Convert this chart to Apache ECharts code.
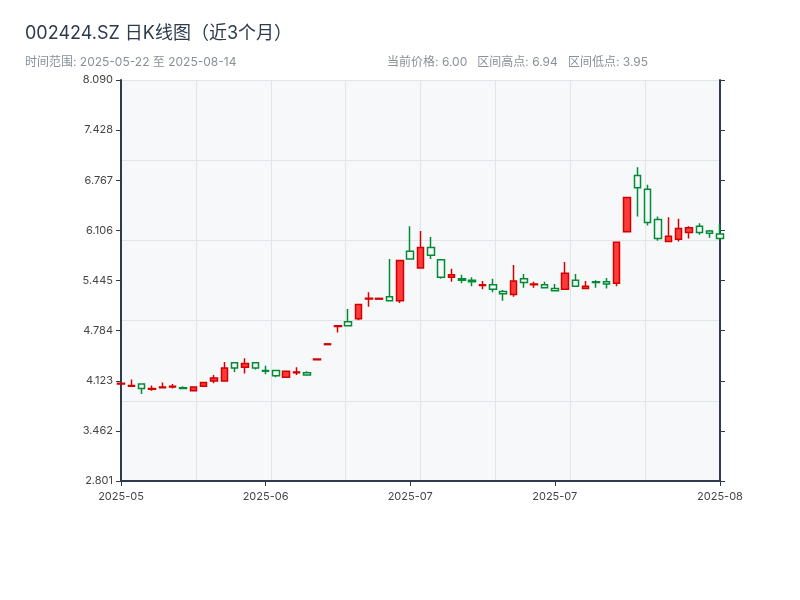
<!DOCTYPE html>
<html>
<head>
<meta charset="utf-8">
<script src="https://cdn.jsdelivr.net/npm/echarts@6/dist/echarts.min.js"></script>
<style>
  html, body { margin: 0; padding: 0; background: #fff; }
  #chart { width: 800px; height: 600px; }
</style>
</head>
<body>
<div id="chart"></div>
<script>
// trading days shown on the category axis
const dates = [
  '2025-05-22', '2025-05-23', '2025-05-26', '2025-05-27', '2025-05-28', '2025-05-29', '2025-05-30',
  '2025-06-03', '2025-06-04', '2025-06-05', '2025-06-06', '2025-06-09', '2025-06-10', '2025-06-11',
  '2025-06-12', '2025-06-13', '2025-06-16', '2025-06-17', '2025-06-18', '2025-06-19', '2025-06-20',
  '2025-06-23', '2025-06-24', '2025-06-25', '2025-06-26', '2025-06-27', '2025-06-30', '2025-07-01',
  '2025-07-02', '2025-07-03', '2025-07-04', '2025-07-07', '2025-07-08', '2025-07-09', '2025-07-10',
  '2025-07-11', '2025-07-14', '2025-07-15', '2025-07-16', '2025-07-17', '2025-07-18', '2025-07-21',
  '2025-07-22', '2025-07-23', '2025-07-24', '2025-07-25', '2025-07-28', '2025-07-29', '2025-07-30',
  '2025-07-31', '2025-08-04', '2025-08-05', '2025-08-06', '2025-08-07', '2025-08-08', '2025-08-11',
  '2025-08-12', '2025-08-13', '2025-08-14'
];

const opens  = [4.08, 4.05, 4.08, 4.01, 4.03, 4.04, 4.03, 3.99, 4.05, 4.12, 4.12, 4.36, 4.30, 4.36,
                4.26, 4.26, 4.17, 4.23, 4.23, 4.40, 4.60, 4.84, 4.90, 4.94, 5.20, 5.20, 5.23, 5.18,
                5.83, 5.61, 5.88, 5.72, 5.49, 5.47, 5.45, 5.38, 5.39, 5.30, 5.26, 5.47, 5.39, 5.39,
                5.34, 5.33, 5.45, 5.34, 5.43, 5.43, 5.41, 6.09, 6.83, 6.65, 6.25, 5.96, 5.99, 6.08,
                6.16, 6.10, 6.06];
const closes = [4.09, 4.06, 4.02, 4.02, 4.04, 4.05, 4.02, 4.04, 4.10, 4.16, 4.29, 4.29, 4.35, 4.29,
                4.25, 4.19, 4.25, 4.24, 4.20, 4.41, 4.61, 4.85, 4.85, 5.13, 5.21, 5.21, 5.18, 5.71,
                5.73, 5.88, 5.78, 5.49, 5.52, 5.45, 5.43, 5.39, 5.33, 5.27, 5.44, 5.42, 5.40, 5.35,
                5.31, 5.54, 5.37, 5.37, 5.42, 5.40, 5.95, 6.54, 6.67, 6.21, 6.00, 6.03, 6.13, 6.14,
                6.08, 6.07, 6.00];
const lows   = [4.08, 4.05, 3.95, 3.99, 4.03, 4.02, 4.01, 3.98, 4.05, 4.09, 4.12, 4.24, 4.22, 4.27,
                4.21, 4.17, 4.16, 4.20, 4.20, 4.40, 4.60, 4.76, 4.84, 4.92, 5.10, 5.20, 5.18, 5.15,
                5.73, 5.61, 5.73, 5.47, 5.43, 5.41, 5.37, 5.33, 5.29, 5.18, 5.23, 5.35, 5.35, 5.35,
                5.31, 5.33, 5.36, 5.34, 5.35, 5.34, 5.37, 6.09, 6.29, 6.17, 5.97, 5.96, 5.96, 6.00,
                6.05, 6.01, 6.00];
const highs  = [4.09, 4.14, 4.08, 4.06, 4.10, 4.08, 4.05, 4.05, 4.10, 4.20, 4.37, 4.37, 4.42, 4.37,
                4.32, 4.26, 4.25, 4.30, 4.25, 4.41, 4.61, 4.85, 5.07, 5.13, 5.29, 5.21, 5.73, 5.71,
                6.16, 6.10, 6.02, 5.72, 5.60, 5.52, 5.49, 5.44, 5.47, 5.32, 5.65, 5.53, 5.43, 5.43,
                5.40, 5.69, 5.53, 5.44, 5.45, 5.48, 5.95, 6.54, 6.94, 6.71, 6.29, 6.28, 6.26, 6.16,
                6.20, 6.11, 6.19];

const yMin = 2.801;
const yMax = 8.090;

const chart = echarts.init(document.getElementById('chart'));

const candles = dates.map((d, i) => [opens[i], closes[i], lows[i], highs[i]]);
const fmt3 = v => (Math.floor(v * 1000 + 1e-6) / 1000).toFixed(3);

chart.setOption({
  animation: false,
  backgroundColor: '#fff',
  textStyle: { fontFamily: 'Inter, "Noto Sans CJK SC", sans-serif' },
  title: [
    {
      text: '002424.SZ 日K线图（近3个月）',
      left: 20, top: 20,
      textStyle: { fontSize: 18, fontWeight: 'normal', color: '#2e3b4e' }
    },
    {
      text: '时间范围: 2025-05-22 至 2025-08-14',
      left: 20, top: 51,
      textStyle: { fontSize: 12, fontWeight: 'normal', color: '#8a8f98' }
    },
    {
      text: '当前价格: 6.00   区间高点: 6.94   区间低点: 3.95',
      right: 147, top: 51,
      textStyle: { fontSize: 12, fontWeight: 'normal', color: '#8a8f98' }
    }
  ],
  grid: {
    left: 121, right: 80, top: 80, bottom: 119,
    show: true, backgroundColor: '#f7f8fa', borderWidth: 0
  },
  xAxis: [
    {
      type: 'category',
      data: dates,
      boundaryGap: false,
      axisLine: { lineStyle: { color: '#2e3b4e', width: 2 } },
      axisTick: { interval: 13, lineStyle: { color: '#2e3b4e' } },
      axisLabel: {
        interval: 13, showMaxLabel: true, color: '#444', fontSize: 11, margin: 10,
        formatter: v => v.slice(0, 7)
      },
      splitLine: { show: false }
    },
    {
      type: 'value', min: 0, max: 8, interval: 1, position: 'top',
      axisLine: { show: false }, axisTick: { show: false }, axisLabel: { show: false },
      splitLine: { show: true, lineStyle: { color: '#e1e4ea' } }
    }
  ],
  yAxis: [
    {
      type: 'value', min: yMin, max: yMax, interval: (yMax - yMin) / 8,
      axisLine: { show: true, lineStyle: { color: '#2e3b4e', width: 2 } },
      axisTick: { show: true, lineStyle: { color: '#2e3b4e' } },
      axisLabel: { color: '#444', fontSize: 11, formatter: fmt3 },
      splitLine: { show: false }
    },
    {
      type: 'value', min: yMin, max: yMax, interval: (yMax - yMin) / 8, position: 'right',
      axisLine: { show: true, lineStyle: { color: '#2e3b4e', width: 2 } },
      axisTick: { show: true, lineStyle: { color: '#2e3b4e' } },
      axisLabel: { show: false },
      splitLine: { show: false }
    },
    {
      type: 'value', min: 0, max: 5, interval: 1, position: 'right', offset: 0,
      axisLine: { show: false }, axisTick: { show: false }, axisLabel: { show: false },
      splitLine: { show: true, lineStyle: { color: '#e1e4ea' } }
    }
  ],
  series: [
    {
      type: 'candlestick',
      data: candles,
      barWidth: 7,
      itemStyle: {
        color: '#ff3a3a',
        borderColor: '#d40000',
        color0: '#f7f8fa',
        borderColor0: '#008c35',
        borderWidth: 1.5
      }
    }
  ]
});
</script>
</body>
</html>
